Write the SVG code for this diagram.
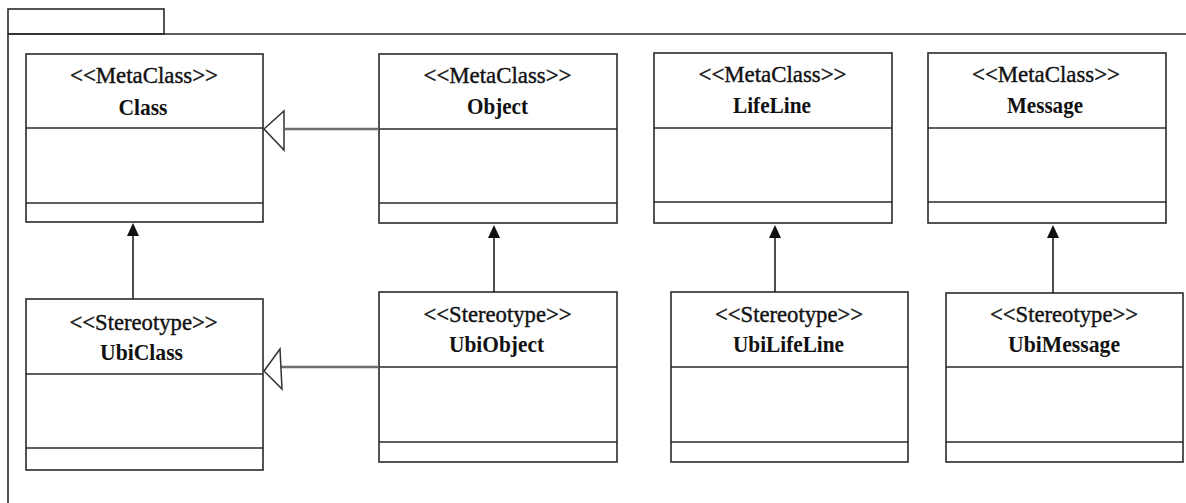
<svg xmlns="http://www.w3.org/2000/svg" width="1186" height="503" viewBox="0 0 1186 503">
<style>
.box{fill:#fff;stroke:#2a2a2a;stroke-width:1.6}
.div{stroke:#2a2a2a;stroke-width:1.6}
.pkg{fill:none;stroke:#2a2a2a;stroke-width:1.6}
.st{font-family:"Liberation Serif","Times New Roman",serif;font-size:24px;fill:#111;stroke:#111;stroke-width:0.4;text-anchor:middle}
.nm{font-family:"Liberation Serif","Times New Roman",serif;font-size:24px;font-weight:bold;fill:#111;text-anchor:middle}
.gen{stroke:#6e6e6e;stroke-width:2.6;fill:none}
.tri{fill:#fff;stroke:#333;stroke-width:1.5}
.dep{stroke:#222;stroke-width:1.6}
.head{fill:#111}
</style>
<g id="package">
<rect class="pkg" x="8" y="9" width="156" height="25"/>
<path class="pkg" d="M8 34 H1200 M8 34 V510"/>
</g>
<g id="node-class">
<rect class="box" x="26" y="54" width="237" height="168"/>
<line class="div" x1="26" y1="128" x2="263" y2="128"/>
<line class="div" x1="26" y1="203" x2="263" y2="203"/>
<text class="st" x="144" y="83" textLength="148" lengthAdjust="spacingAndGlyphs">&lt;&lt;MetaClass&gt;&gt;</text>
<text class="nm" x="143" y="115" textLength="49" lengthAdjust="spacingAndGlyphs">Class</text>
</g>
<g id="node-object">
<rect class="box" x="379" y="54" width="238" height="169"/>
<line class="div" x1="379" y1="129" x2="617" y2="129"/>
<line class="div" x1="379" y1="203" x2="617" y2="203"/>
<text class="st" x="497.5" y="83" textLength="148" lengthAdjust="spacingAndGlyphs">&lt;&lt;MetaClass&gt;&gt;</text>
<text class="nm" x="497.5" y="114" textLength="61" lengthAdjust="spacingAndGlyphs">Object</text>
</g>
<g id="node-lifeline">
<rect class="box" x="654" y="53" width="238" height="170"/>
<line class="div" x1="654" y1="128" x2="892" y2="128"/>
<line class="div" x1="654" y1="202" x2="892" y2="202"/>
<text class="st" x="772.5" y="82" textLength="148" lengthAdjust="spacingAndGlyphs">&lt;&lt;MetaClass&gt;&gt;</text>
<text class="nm" x="772" y="113" textLength="78" lengthAdjust="spacingAndGlyphs">LifeLine</text>
</g>
<g id="node-message">
<rect class="box" x="928" y="53" width="238" height="170"/>
<line class="div" x1="928" y1="128" x2="1166" y2="128"/>
<line class="div" x1="928" y1="202" x2="1166" y2="202"/>
<text class="st" x="1046" y="82" textLength="148" lengthAdjust="spacingAndGlyphs">&lt;&lt;MetaClass&gt;&gt;</text>
<text class="nm" x="1045" y="113" textLength="76" lengthAdjust="spacingAndGlyphs">Message</text>
</g>
<g id="node-ubiclass">
<rect class="box" x="26" y="299" width="237" height="171"/>
<line class="div" x1="26" y1="374" x2="263" y2="374"/>
<line class="div" x1="26" y1="448" x2="263" y2="448"/>
<text class="st" x="143.5" y="330" textLength="148" lengthAdjust="spacingAndGlyphs">&lt;&lt;Stereotype&gt;&gt;</text>
<text class="nm" x="141.5" y="360" textLength="83" lengthAdjust="spacingAndGlyphs">UbiClass</text>
</g>
<g id="node-ubiobject">
<rect class="box" x="379" y="292" width="238" height="170"/>
<line class="div" x1="379" y1="367" x2="617" y2="367"/>
<line class="div" x1="379" y1="442" x2="617" y2="442"/>
<text class="st" x="497.5" y="322" textLength="148" lengthAdjust="spacingAndGlyphs">&lt;&lt;Stereotype&gt;&gt;</text>
<text class="nm" x="496.5" y="352" textLength="95" lengthAdjust="spacingAndGlyphs">UbiObject</text>
</g>
<g id="node-ubilifeline">
<rect class="box" x="671" y="292" width="237" height="170"/>
<line class="div" x1="671" y1="367" x2="908" y2="367"/>
<line class="div" x1="671" y1="442" x2="908" y2="442"/>
<text class="st" x="789" y="322" textLength="148" lengthAdjust="spacingAndGlyphs">&lt;&lt;Stereotype&gt;&gt;</text>
<text class="nm" x="788.5" y="352" textLength="111" lengthAdjust="spacingAndGlyphs">UbiLifeLine</text>
</g>
<g id="node-ubimessage">
<rect class="box" x="946" y="293" width="237" height="169"/>
<line class="div" x1="946" y1="367" x2="1183" y2="367"/>
<line class="div" x1="946" y1="442" x2="1183" y2="442"/>
<text class="st" x="1064" y="322" textLength="148" lengthAdjust="spacingAndGlyphs">&lt;&lt;Stereotype&gt;&gt;</text>
<text class="nm" x="1064" y="352" textLength="112" lengthAdjust="spacingAndGlyphs">UbiMessage</text>
</g>
<g id="connectors">
<line class="gen" x1="285" y1="129" x2="379" y2="129"/>
<polygon class="tri" points="264,129 284,111 284,150"/>
<line class="gen" x1="281" y1="367" x2="379" y2="367"/>
<polygon class="tri" points="264,371 280,349 282,389"/>
<line class="dep" x1="133" y1="299" x2="133" y2="232"/>
<polygon class="head" points="133,223 127,236 139,236"/>
<line class="dep" x1="494" y1="292" x2="494" y2="234"/>
<polygon class="head" points="494,225 488,238 500,238"/>
<line class="dep" x1="775" y1="292" x2="775" y2="234"/>
<polygon class="head" points="775,225 769,238 781,238"/>
<line class="dep" x1="1053" y1="293" x2="1053" y2="234"/>
<polygon class="head" points="1053,225 1047,238 1059,238"/>
</g>
</svg>
